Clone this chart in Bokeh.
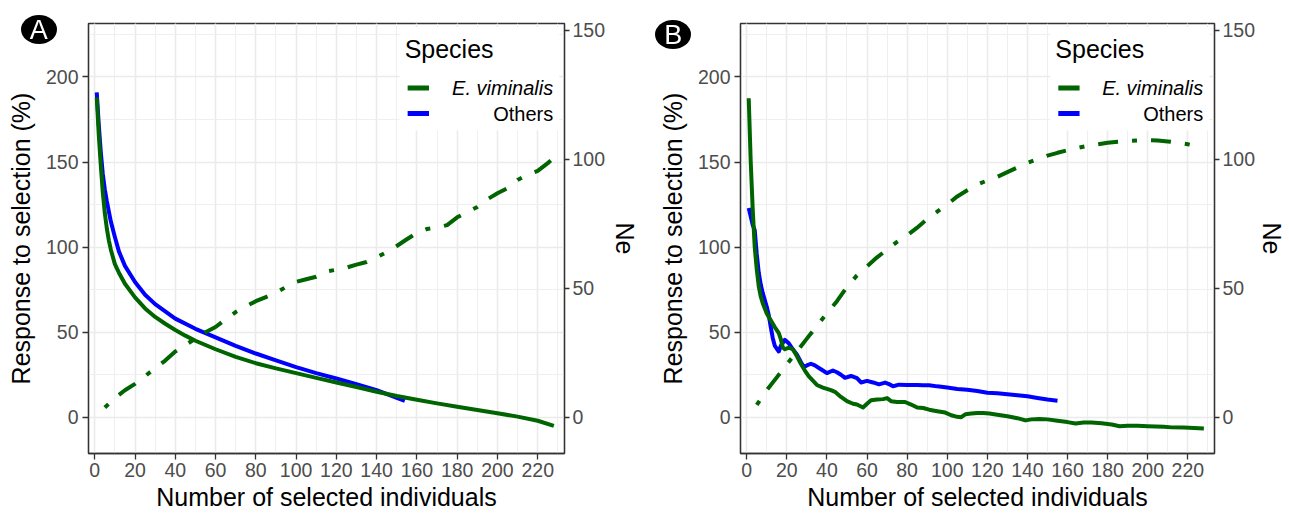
from bokeh.plotting import figure
from bokeh.models import Range1d, LinearAxis, SingleIntervalTicker, Label, BoxAnnotation, Div
from bokeh.layouts import row, column
from bokeh.embed import file_html
from bokeh.resources import INLINE

FONT = "Liberation Sans"
GREEN = "#006400"
BLUE = "#0000FF"

# ---------------- Panel A ----------------
resp_ev_a_x = [1, 2, 3, 4, 5, 6, 7, 8, 10, 12, 15, 20, 25, 30, 35, 40, 45, 50, 60, 70, 80, 90,
               100, 110, 120, 130, 140, 150, 160, 170, 180, 190, 200, 210, 220, 228]
resp_ev_a_y = [188, 166, 148, 132, 120, 111, 104, 98.5, 90, 85, 78.5, 70.5, 64, 59, 55, 51.3, 48, 45,
               40, 35.5, 31.8, 28.8, 26, 23.2, 20.5, 17.8, 15, 12.5, 10.3, 8.2, 6.2, 4.3, 2.4, 0.4, -2, -5]
resp_ot_a_x = [1, 2, 3, 4, 5, 6, 7, 8, 10, 12, 15, 20, 25, 30, 40, 50, 60, 70, 80, 90, 100, 110,
               120, 130, 140, 150, 154]
resp_ot_a_y = [191, 172, 156, 143, 134, 127, 121, 115, 106, 97.5, 89, 79.5, 72, 66.5, 58, 52, 47,
               42, 37.5, 33.5, 29.5, 26, 22.8, 19.5, 16, 11.5, 9.7]
ne_ev_a_x = [5, 10, 15, 20, 25, 30, 35, 40, 45, 50, 55, 60, 65, 70, 75, 80, 85, 90, 95, 100, 105,
             110, 115, 120, 125, 130, 135, 140, 145, 150, 155, 160, 165, 170, 175, 180, 185, 190,
             195, 200, 205, 210, 215, 220, 225, 228]
ne_ev_a_y = [3.8, 7.5, 10.5, 13, 16, 19, 22, 25.5, 28, 30.5, 33, 35, 38, 40.8, 43, 45, 46.6, 48.3,
             50.5, 52.5, 53.5, 54.5, 56.5, 57.2, 58, 59.2, 60.2, 62, 64, 66.4, 69, 71.5, 73, 73.5,
             74.5, 77.5, 79.5, 81.5, 84.5, 86.8, 88.8, 92, 94, 95.5, 98.5, 100.5]

# ---------------- Panel B ----------------
resp_ev_b_x = [1, 2, 3, 4, 5, 6, 7, 8, 10, 12, 14, 16, 17, 18, 19, 21, 23, 25, 27, 29, 31, 33, 35,
               38, 42, 44, 47, 50, 53, 55, 58, 60, 62, 65, 68, 70, 72, 75, 79, 82, 85, 88, 91, 95,
               99, 102, 105, 107, 109, 112, 115, 118, 121, 125, 130, 135, 139, 142, 146, 150, 155,
               160, 164, 168, 172, 177, 182, 186, 190, 195, 200, 204, 208, 212, 218, 223, 228]
resp_ev_b_y = [187.5, 150, 122, 100, 87, 77, 71, 67, 61, 57, 53, 49.5, 46, 41, 40, 41, 40, 36, 31.5,
               27.5, 24, 21.5, 19, 17.5, 16, 15, 12, 9.5, 8, 7.5, 5.8, 8, 10, 10.5, 10.7, 11.3, 9.5,
               9, 9, 7.5, 5.8, 5.5, 4.5, 3.6, 2.8, 1.2, 0.3, 0.1, 1.8, 2.2, 2.6, 2.5, 2.2, 1.5, 0.6,
               -0.5, -1.8, -1.2, -1, -1.2, -2, -2.8, -3.6, -3, -3, -3.5, -4.2, -5.2, -5, -4.9, -5.2,
               -5.4, -5.6, -5.9, -6, -6.2, -6.5]
resp_ot_b_x = [1, 2, 3, 4, 5, 6, 7, 8, 10, 11, 12, 13, 14, 16, 17, 19, 21, 23, 25, 27, 28.5, 30, 32,
               34, 36, 38, 40, 43, 45, 47, 49, 52, 55, 57, 60, 63, 66, 69, 71, 73, 76, 80, 85, 88,
               91, 95, 100, 105, 110, 115, 120, 125, 130, 135, 140, 145, 150, 155]
resp_ot_b_y = [123, 118, 113, 110, 96, 85, 78, 73, 65, 60, 53, 46.5, 42, 38.7, 42, 45.5, 43.5, 40,
               37, 32.5, 29.5, 30.5, 31.5, 30.5, 29, 27.5, 26, 27.5, 26.5, 25, 23.2, 24.3, 23, 20.5,
               21.4, 20.5, 19.4, 20.4, 19.5, 18.3, 19.2, 19, 19, 18.8, 18.9, 18.2, 17.5, 16.7, 16.2,
               15.5, 14.4, 14.1, 13.6, 13, 12.4, 11.4, 10.5, 9.8]
ne_ev_b_x = [5, 10, 15, 20, 25, 30, 35, 40, 45, 50, 55, 60, 65, 70, 75, 80, 85, 90, 95, 100, 105,
             110, 115, 120, 125, 130, 135, 140, 145, 150, 155, 160, 165, 170, 175, 180, 185, 190,
             195, 200, 205, 210, 215, 220, 222]
ne_ev_b_y = [4.8, 10.5, 15.5, 20.5, 25.5, 30.5, 35.5, 40.3, 45, 50.5, 55, 58.5, 62, 65, 68, 70.5,
             73.5, 76.8, 79.7, 82.5, 85.6, 88, 90.2, 91.8, 93.2, 95, 96.8, 98.6, 100, 101.4, 102.5,
             103.5, 104.4, 105.2, 105.8, 106.4, 106.8, 107.1, 107.3, 107.4, 107.3, 106.9, 106.4,
             105.8, 105.5]

x_ticks_interval = 20
y_ticks_interval = 50
ne_ticks_interval = 50
legend_title = "Species"
legend_labels = ["E. viminalis", "Others"]
x_title = "Number of selected individuals"
y_title = "Response to selection (%)"
y2_title = "Ne"
panel_letters = ["A", "B"]


def style_axis(ax, label, title_standoff, label_standoff=4, tick_out=6):
    ax.axis_label = label
    ax.axis_label_text_font = FONT
    ax.axis_label_text_font_size = "25px"
    ax.axis_label_text_font_style = "normal"
    ax.axis_label_text_color = "#000000"
    ax.axis_label_standoff = title_standoff
    ax.major_label_text_font = FONT
    ax.major_label_text_font_size = "19.5px"
    ax.major_label_text_color = "#4D4D4D"
    ax.major_label_standoff = label_standoff
    ax.axis_line_color = "#333333"
    ax.axis_line_width = 1.3
    ax.major_tick_line_color = "#333333"
    ax.major_tick_line_width = 1.3
    ax.major_tick_out = tick_out
    ax.major_tick_in = 0
    ax.minor_tick_line_color = None


def panel(gx, gy, bx, by, nx, ny, width, bl, br, ne_standoff):
    p = figure(width=width, height=513, output_backend="svg", toolbar_location=None,
               x_range=Range1d(-3.1, 233.3), y_range=Range1d(-21.25, 231.4),
               min_border_left=bl, min_border_right=br, min_border_top=23, min_border_bottom=10,
               background_fill_color="white", border_fill_color="white")
    p.extra_y_ranges = {"ne": Range1d(-14.0, 152.6)}
    p.outline_line_color = "#333333"
    p.outline_line_width = 1.3

    p.xaxis.ticker = SingleIntervalTicker(interval=x_ticks_interval, num_minor_ticks=2)
    p.yaxis.ticker = SingleIntervalTicker(interval=y_ticks_interval, num_minor_ticks=2)
    style_axis(p.xaxis[0], x_title, 3, 3)
    style_axis(p.yaxis[0], y_title, 8)

    for g in (p.xgrid[0], p.ygrid[0]):
        g.grid_line_color = "#EBEBEB"
        g.grid_line_width = 1.6
        g.minor_grid_line_color = "#EFEFEF"
        g.minor_grid_line_width = 1.0

    ax2 = LinearAxis(y_range_name="ne",
                     ticker=SingleIntervalTicker(interval=ne_ticks_interval, num_minor_ticks=0))
    style_axis(ax2, y2_title, ne_standoff, 3, 5)
    p.add_layout(ax2, "right")

    p.line(bx, by, line_color=BLUE, line_width=4, line_join="round")
    p.line(gx, gy, line_color=GREEN, line_width=4, line_join="round")
    p.line(nx, ny, y_range_name="ne", line_color=GREEN, line_width=4,
           line_dash="5 14 20 14", line_join="round")

    # legend (inside, top right)
    p.add_layout(BoxAnnotation(left=151.4, right=230.7, bottom=168.6, top=229.2,
                               fill_color="white", fill_alpha=1.0, line_alpha=0))
    p.add_layout(Label(x=153.9, y=216.3, text=legend_title, text_font=FONT,
                       text_font_size="25px", text_baseline="middle", text_align="left",
                       text_color="#000000"))
    for yy, col, lab, style in [(193.5, GREEN, legend_labels[0], "italic"),
                                (178.5, BLUE, legend_labels[1], "normal")]:
        p.add_layout(BoxAnnotation(left=155.4, right=166.0, bottom=yy - 1.45, top=yy + 1.45,
                                   fill_color=col, fill_alpha=1.0, line_alpha=0))
        p.add_layout(Label(x=227.7, y=yy, text=lab, text_font=FONT, text_font_size="20px",
                           text_font_style=style, text_baseline="middle", text_align="right",
                           text_color="#000000"))
    return p


pa = panel(resp_ev_a_x, resp_ev_a_y, resp_ot_a_x, resp_ot_a_y, ne_ev_a_x, ne_ev_a_y,
           644, 88, 80, 3)
pb = panel(resp_ev_b_x, resp_ev_b_y, resp_ot_b_x, resp_ot_b_y, ne_ev_b_x, ne_ev_b_y,
           645, 96, 72, 0)

# panel letters: black elliptical badges overlaid on the page
badge_css = ("position:fixed;width:36px;height:29px;border-radius:50%;background:#000;"
             "color:#fff;font-family:'Liberation Sans',sans-serif;font-size:27px;"
             "line-height:30px;text-align:center;z-index:1000;")
badges = "".join(
    f'<div style="{badge_css}left:{lx}px;top:{ty}px;">{t}</div>'
    for t, lx, ty in zip(panel_letters, [20.7, 655.3], [14.5, 19.5]))
badge_div = Div(text=badges, width=1, height=1)

layout = column(row(pa, pb), badge_div)
open("out.html", "w").write(file_html(layout, INLINE))
